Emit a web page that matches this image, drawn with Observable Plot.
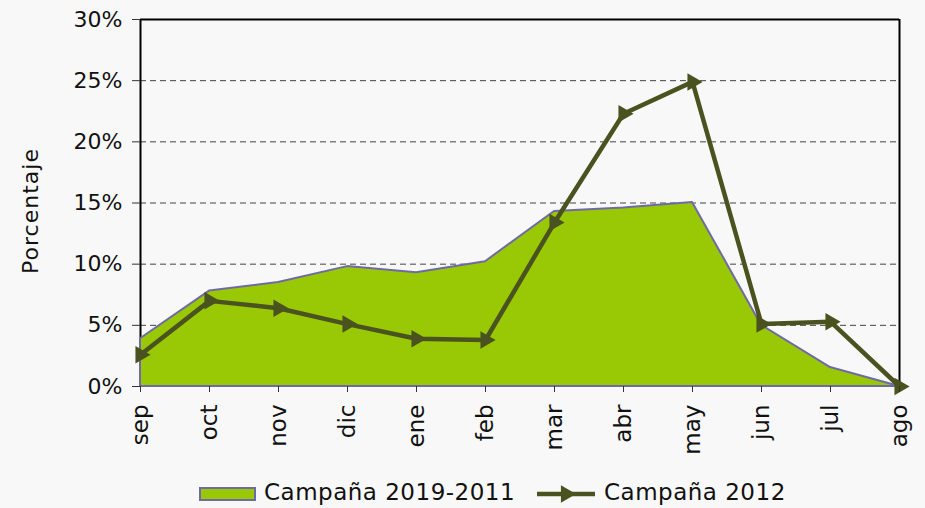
<!DOCTYPE html>
<html><head><meta charset="utf-8">
<script src="https://cdn.jsdelivr.net/npm/d3@7"></script>
<script src="https://cdn.jsdelivr.net/npm/@observablehq/plot@0.6"></script>
<style>
html,body{margin:0;padding:0;background:#f8f8f8;font-family:"DejaVu Sans",sans-serif;}
#chart{width:925px;height:508px;position:relative;overflow:hidden;}
#chart svg.plot{position:absolute;left:0;top:0;}
.lg{position:absolute;font-size:23px;letter-spacing:0.5px;color:#111;white-space:nowrap;line-height:26px;}
#ylab{position:absolute;font-size:22px;letter-spacing:1px;color:#111;white-space:nowrap;line-height:26px;transform:translate(-50%,-50%) rotate(-90deg);}
</style></head><body>
<div id="chart"></div>
<script>
const months = ["sep","oct","nov","dic","ene","feb","mar","abr","may","jun","jul","ago"];
const campaign20192011 = [0.039,0.078,0.085,0.098,0.093,0.102,0.143,0.146,0.1505,0.050,0.0155,0.0];
const campaign2012 = [0.026,0.070,0.064,0.051,0.039,0.038,0.134,0.223,0.249,0.051,0.053,0.0];
const seriesNames = ["Campaña 2019-2011","Campaña 2012"];
const yTicks = [0,0.05,0.10,0.15,0.20,0.25,0.30];
const yLabel = "Porcentaje";

const areaData = months.map((m,i)=>({month:m,value:campaign20192011[i]}));
const lineData = months.map((m,i)=>({month:m,value:campaign2012[i]}));

const areaFill = "#99c805", areaStroke = "#6f6aa6", lineColor = "#4a531f";
const markerR = 6.5;

const plot = Plot.plot({
  width: 925, height: 478,
  marginLeft: 140, marginRight: 26, marginTop: 19, marginBottom: 92,
  style: {background:"transparent", fontFamily:"DejaVu Sans, sans-serif", fontSize:"20px", color:"#111"},
  x: {type:"point", domain: months, padding: 0, label: null},
  y: {domain:[0,0.30], label: null},
  marks: [
    Plot.ruleY(yTicks.slice(1,-1), {stroke:"#444", strokeWidth:1, strokeDasharray:"6,4"}),
    Plot.ruleX([months[0], months[months.length-1]], {y1:0, y2:0.30, stroke:"#000", strokeWidth:2}),
    Plot.ruleY([0.30], {stroke:"#000", strokeWidth:2}),
    Plot.areaY(areaData, {x:"month", y:"value", fill:areaFill, fillOpacity:1, stroke:areaStroke, strokeWidth:2}),
    Plot.line(lineData, {x:"month", y:"value", stroke:lineColor, strokeWidth:4.5}),
    Plot.dot(lineData, {x:"month", y:"value", symbol:"triangle", rotate:90, r:markerR, fill:lineColor, stroke:"none"}),
    Plot.axisY({ticks: yTicks, tickFormat: d => Math.round(d*100)+"%", tickSize:8, tickPadding:10, fontSize:22, stroke:"#333", label:null}),
    Plot.axisX({tickRotate:-90, tickSize:6, tickPadding:12, fontSize:23, stroke:"#333", label:null})
  ]
});
plot.classList.add("plot");
const chart = document.getElementById("chart");
chart.appendChild(plot);

// y axis title
const yl = document.createElement("div");
yl.id = "ylab"; yl.textContent = yLabel;
yl.style.left = "31px"; yl.style.top = "211px";
chart.appendChild(yl);

// legend
const sw = document.createElement("div");
sw.style.cssText = `position:absolute;left:199px;top:487px;width:53px;height:10px;background:${areaFill};border:2px solid ${areaStroke};`;
chart.appendChild(sw);
const t1 = document.createElement("div");
t1.className = "lg"; t1.style.left = "264px"; t1.style.top = "479px"; t1.textContent = seriesNames[0];
chart.appendChild(t1);
const ns = "http://www.w3.org/2000/svg";
const ls = document.createElementNS(ns,"svg");
ls.setAttribute("width","60"); ls.setAttribute("height","18");
ls.style.cssText = "position:absolute;left:537px;top:485px;";
const ln = document.createElementNS(ns,"line");
ln.setAttribute("x1","0"); ln.setAttribute("x2","58"); ln.setAttribute("y1","9"); ln.setAttribute("y2","9");
ln.setAttribute("stroke",lineColor); ln.setAttribute("stroke-width","4.5");
ls.appendChild(ln);
const tri = document.createElementNS(ns,"path");
tri.setAttribute("d", d3.symbol(d3.symbolTriangle, markerR*markerR*Math.PI)());
tri.setAttribute("transform","translate(29,9) rotate(90)");
tri.setAttribute("fill",lineColor);
ls.appendChild(tri);
chart.appendChild(ls);
const t2 = document.createElement("div");
t2.className = "lg"; t2.style.left = "604px"; t2.style.top = "479px"; t2.textContent = seriesNames[1];
chart.appendChild(t2);
</script>
</body></html>
